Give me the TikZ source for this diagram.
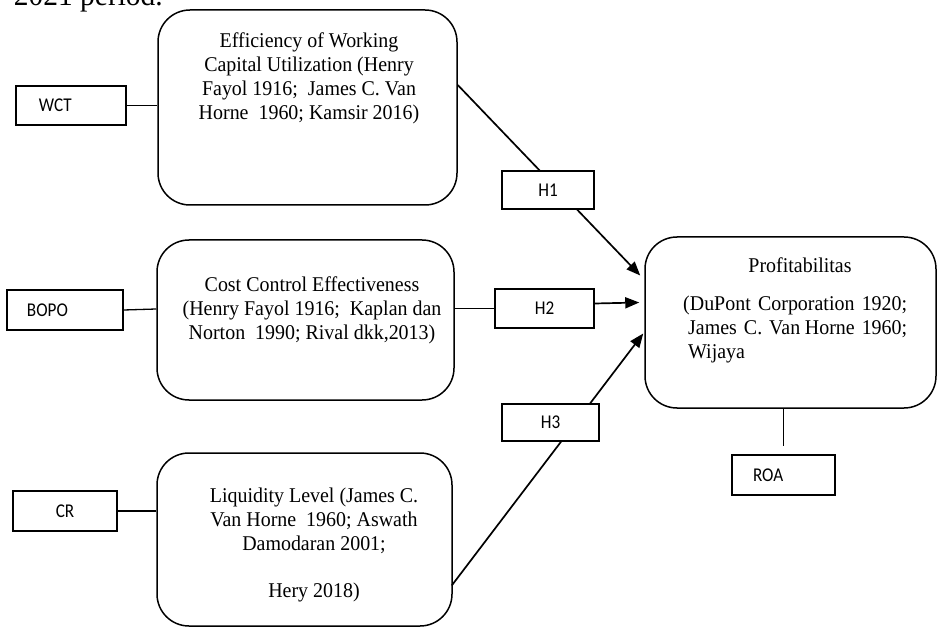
\documentclass[tikz,border=0pt]{standalone}
\usepackage{fontspec}
\setmainfont{Liberation Serif}[FakeStretch=0.95]
\newfontfamily\lblfont{Carlito}[FakeStretch=0.88]
\usetikzlibrary{arrows.meta,backgrounds}
\begin{document}
\begin{tikzpicture}[x=1pt,y=-1pt,
  bigbox/.style={draw, line width=1.5pt, rounded corners=32pt, inner sep=0pt},
  boxtext/.style={font=\fontsize{21}{23.7}\selectfont, align=center, inner sep=0pt},
  lbl/.style={draw, fill=white, line width=1.2pt, inner sep=0pt, font=\lblfont\fontsize{19.5}{22}\selectfont},
  link/.style={line width=1.3pt},
  arr/.style={line width=1.7pt, -{Triangle[length=14pt,width=11pt]}},
]
\useasboundingbox (0,0) rectangle (937,628);
\node[anchor=base east, inner sep=0pt, font=\fontsize{31}{36}\selectfont] (top) at (163,6) {2021 period.};

% main boxes
\node[bigbox, minimum width=299pt, minimum height=195pt] (b1) at (307.5,107.5) {};
\node[boxtext, anchor=north] (t1) at (309,33) {Efficiency of Working\\Capital Utilization (Henry\\Fayol 1916;\ \ James C. Van\\Horne\ \ 1960; Kamsir 2016)};

\node[bigbox, minimum width=297pt, minimum height=160pt] (b2) at (305.5,320) {};
\node[boxtext, anchor=north] (t2) at (312,277) {Cost Control Effectiveness\\(Henry Fayol 1916;\ \ Kaplan dan\\Norton\ \ 1990; Rival dkk,2013)};

\node[bigbox, minimum width=295pt, minimum height=173pt] (b3) at (304.5,539.5) {};
\node[boxtext, anchor=north] (t3) at (314,488) {Liquidity Level (James C.\\Van Horne\ \ 1960; Aswath\\Damodaran 2001;\\[23.7pt]Hery 2018)};

\node[bigbox, minimum width=291pt, minimum height=171pt] (prof) at (790.5,322.5) {};
\node[boxtext, anchor=base] (tp) at (800,273) {Profitabilitas};
\node[boxtext, align=left, text width=224pt, anchor=north west] (tp2) at (683,296) {(DuPont\hfill Corporation\hfill 1920;\\\hspace*{5pt}James C. Van\hfill Horne 1960;\\\hspace*{5pt}Wijaya};

% small labels
\node[lbl, minimum width=110pt, minimum height=39pt] (wct) at (71,105.5) {\makebox[110pt][l]{\hspace*{23pt}WCT}};
\node[lbl, minimum width=116pt, minimum height=40pt] (bopo) at (65,310) {\makebox[116pt][l]{\hspace*{20pt}BOPO}};
\node[lbl, minimum width=104pt, minimum height=40pt] (cr) at (65,511) {CR};
\node[lbl, minimum width=103pt, minimum height=40pt] (roa) at (783.5,475) {\makebox[103pt][l]{\hspace*{21pt}ROA}};

\node[lbl, minimum width=92pt, minimum height=38pt] (h1) at (548,190) {H1};
\node[lbl, minimum width=99pt, minimum height=39pt] (h2) at (544.5,308.5) {H2};
\node[lbl, minimum width=97pt, minimum height=37pt] (h3) at (550.5,422.5) {H3};

% connectors
\draw[link] (wct.east) -- (b1.west |- wct.east);
\draw[link] (bopo.east) -- ([yshift=11pt]b2.west);
\draw[link] (cr.east) -- (cr.east -| b3.west);
\draw[line width=0.8pt] (roa.north |- prof.south) -- ([yshift=8pt]roa.north);

\begin{scope}[on background layer]
\draw[arr] ([yshift=22.5pt]b1.east) -- ([xshift=-4pt,yshift=47pt]prof.west);
\draw[arr] ([xshift=-1pt,yshift=-46pt]b3.east) -- ([xshift=-1pt,yshift=-11pt]prof.west);
\end{scope}
\draw[link] (b2.east |- h2.west) -- (h2.west);
\draw[arr] ([yshift=5pt]h2.east) -- ([xshift=-5pt,yshift=20pt]prof.west);
\end{tikzpicture}
\end{document}
